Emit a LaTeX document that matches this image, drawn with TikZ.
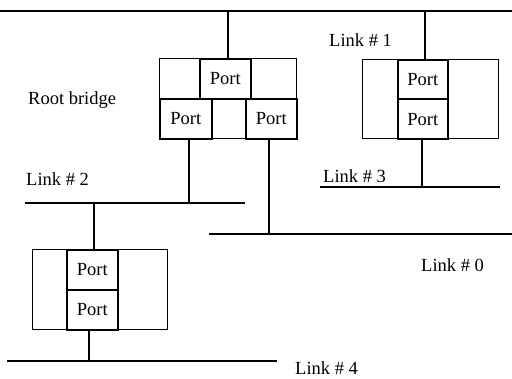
\documentclass[tikz,border=0pt]{standalone}
\usepackage{fontspec}
\setmainfont{Liberation Serif}
\begin{document}
\begin{tikzpicture}[x=1pt,y=-1pt,
  link/.style={line width=1.8pt},
  wire/.style={line width=1.8pt},
  cell/.style={draw, line width=1.3pt, inner sep=0pt, anchor=north west, font=\fontsize{18.5}{20}\selectfont},
  portbox/.style={cell, line width=1.6pt},
  lbl/.style={anchor=base west, inner sep=0pt, font=\fontsize{18.5}{20}\selectfont}]
\useasboundingbox (0,0) rectangle (512,379);

% Root bridge
\node[cell,minimum width=40pt,minimum height=40pt] (r11) at (159,58) {};
\node[portbox,minimum width=51pt,minimum height=40pt] (rp1) at (199,58) {Port};
\node[cell,minimum width=46pt,minimum height=40pt] (r13) at (250,58) {};
\node[portbox,minimum width=52pt,minimum height=40pt] (rp2) at (159,98) {Port};
\node[cell,minimum width=34pt,minimum height=40pt] (r22) at (211,98) {};
\node[portbox,minimum width=51pt,minimum height=40pt] (rp3) at (245,98) {Port};

% Right bridge
\node[cell,minimum width=35pt,minimum height=79pt] (b1) at (362,59) {};
\node[portbox,minimum width=50pt,minimum height=39.5pt] (bp1) at (397,59) {Port};
\node[portbox,minimum width=50pt,minimum height=39.5pt] (bp2) at (397,98.5) {Port};
\node[cell,minimum width=51pt,minimum height=79pt] (b3) at (447,59) {};

% Lower bridge
\node[cell,minimum width=34pt,minimum height=80pt] (c1) at (32,249) {};
\node[portbox,minimum width=51pt,minimum height=40pt] (cp1) at (66,249) {Port};
\node[portbox,minimum width=51pt,minimum height=40pt] (cp2) at (66,289) {Port};
\node[cell,minimum width=50pt,minimum height=80pt] (c3) at (117,249) {};

% Links
\coordinate (l1a) at (0,11);   \coordinate (l1b) at (512,11);
\coordinate (l2a) at (25,203); \coordinate (l2b) at (245,203);
\coordinate (l0a) at (209,234);\coordinate (l0b) at (512,234);
\coordinate (l3a) at (320,187);\coordinate (l3b) at (500,187);
\coordinate (l4a) at (7,361);  \coordinate (l4b) at (277,361);
\draw[link] (l1a) -- (l1b);
\draw[link] (l2a) -- (l2b);
\draw[link] (l0a) -- (l0b);
\draw[link] (l3a) -- (l3b);
\draw[link] (l4a) -- (l4b);

% Wires
\draw[wire] ([xshift=3pt]rp1.north) -- ([xshift=3pt]rp1.north |- l1a);
\draw[wire] ([xshift=3pt]rp2.south) -- ([xshift=3pt]rp2.south |- l2a);
\draw[wire] ([xshift=-2pt]rp3.south) -- ([xshift=-2pt]rp3.south |- l0a);
\draw[wire] ([xshift=2pt]bp1.north) -- ([xshift=2pt]bp1.north |- l1a);
\draw[wire] ([xshift=-1pt]bp2.south) -- ([xshift=-1pt]bp2.south |- l3a);
\draw[wire] ([xshift=1.5pt]cp1.north) -- ([xshift=1.5pt]cp1.north |- l2a);
\draw[wire] ([xshift=-3.5pt]cp2.south) -- ([xshift=-3.5pt]cp2.south |- l4a);

% Labels
\node[lbl] (troot) at (28,105) {Root bridge};
\node[lbl] (tl1) at (329,47) {Link \# 1};
\node[lbl] (tl2) at (26,186) {Link \# 2};
\node[lbl] (tl3) at (323,183) {Link \# 3};
\node[lbl] (tl0) at (421,272) {Link \# 0};
\node[lbl] (tl4) at (295,375) {Link \# 4};
\end{tikzpicture}
\end{document}
